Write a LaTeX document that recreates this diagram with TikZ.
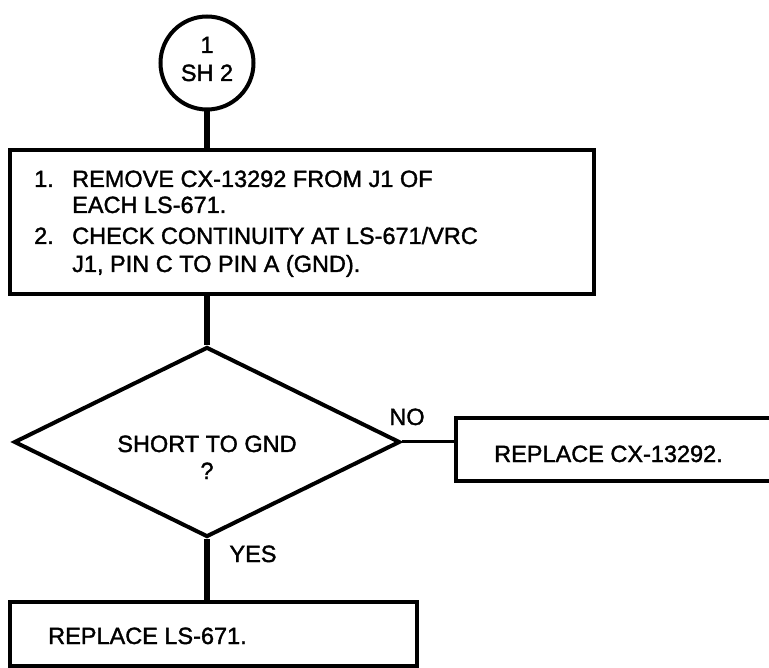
\documentclass[tikz,border=0pt]{standalone}
\usepackage{fontspec}
\setmainfont{Liberation Sans}
\newfontfamily\diagfont{Liberation Sans}[FakeBold=1.5]
\usetikzlibrary{shapes.geometric}
\begin{document}
\begin{tikzpicture}[x=1pt,y=-1pt,
  shp/.style={draw=black, line width=4pt, inner sep=0pt},
  conn/.style={draw=black, line width=5.5pt},
  hconn/.style={draw=black, line width=3pt},
  txt/.style={inner sep=0pt, font=\diagfont\fontsize{23.5}{27}\selectfont, anchor=base west},
  ctxt/.style={inner sep=0pt, font=\diagfont\fontsize{23.5}{27}\selectfont, anchor=base}]
\useasboundingbox (0,0) rectangle (769,668);
% start connector circle
\node[shp, circle, minimum size=93pt] (c) at (207,63) {};
\node[ctxt] (c1) at (207,53) {1};
\node[ctxt] (c2) at (207,81) {SH 2};
% first box
\node[shp, rectangle, minimum width=584pt, minimum height=144pt] (b1) at (302,222) {};
\node[txt] (n1) at (34,187) {1.};
\node[txt] (l1) at (72,187) {REMOVE CX-13292 FROM J1 OF};
\node[txt] (l2) at (72,213) {EACH LS-671.};
\node[txt] (n2) at (34,244) {2.};
\node[txt] (l3) at (72,244) {CHECK CONTINUITY AT LS-671/VRC};
\node[txt] (l4) at (72,272) {J1, PIN C TO PIN A (GND).};
% decision
\node[shp, diamond, minimum width=386pt, minimum height=190pt] (d) at (207,442) {};
\node[ctxt] (d1) at (207,452) {SHORT TO GND};
\node[ctxt] (d2) at (207,479) {?};
% NO box
\node[shp, rectangle, minimum width=344pt, minimum height=63pt] (b2) at (628,449.5) {};
\node[txt] (t2) at (494,462) {REPLACE CX-13292.};
% YES box
\node[shp, rectangle, minimum width=407pt, minimum height=64pt] (b3) at (213.5,634) {};
\node[txt] (t3) at (48,644) {REPLACE LS-671.};
% labels
\node[ctxt] (no) at (407,425) {NO};
\node[ctxt] (yes) at (253,562) {YES};
% connectors
\draw[conn] (c.south) -- (c.south |- b1.north);
\draw[conn] (d.north |- b1.south) -- (d.north);
\draw[hconn] (d.east) -- (b2.west |- d.east);
\draw[conn] (d.south) -- (d.south |- b3.north);
\end{tikzpicture}
\end{document}
